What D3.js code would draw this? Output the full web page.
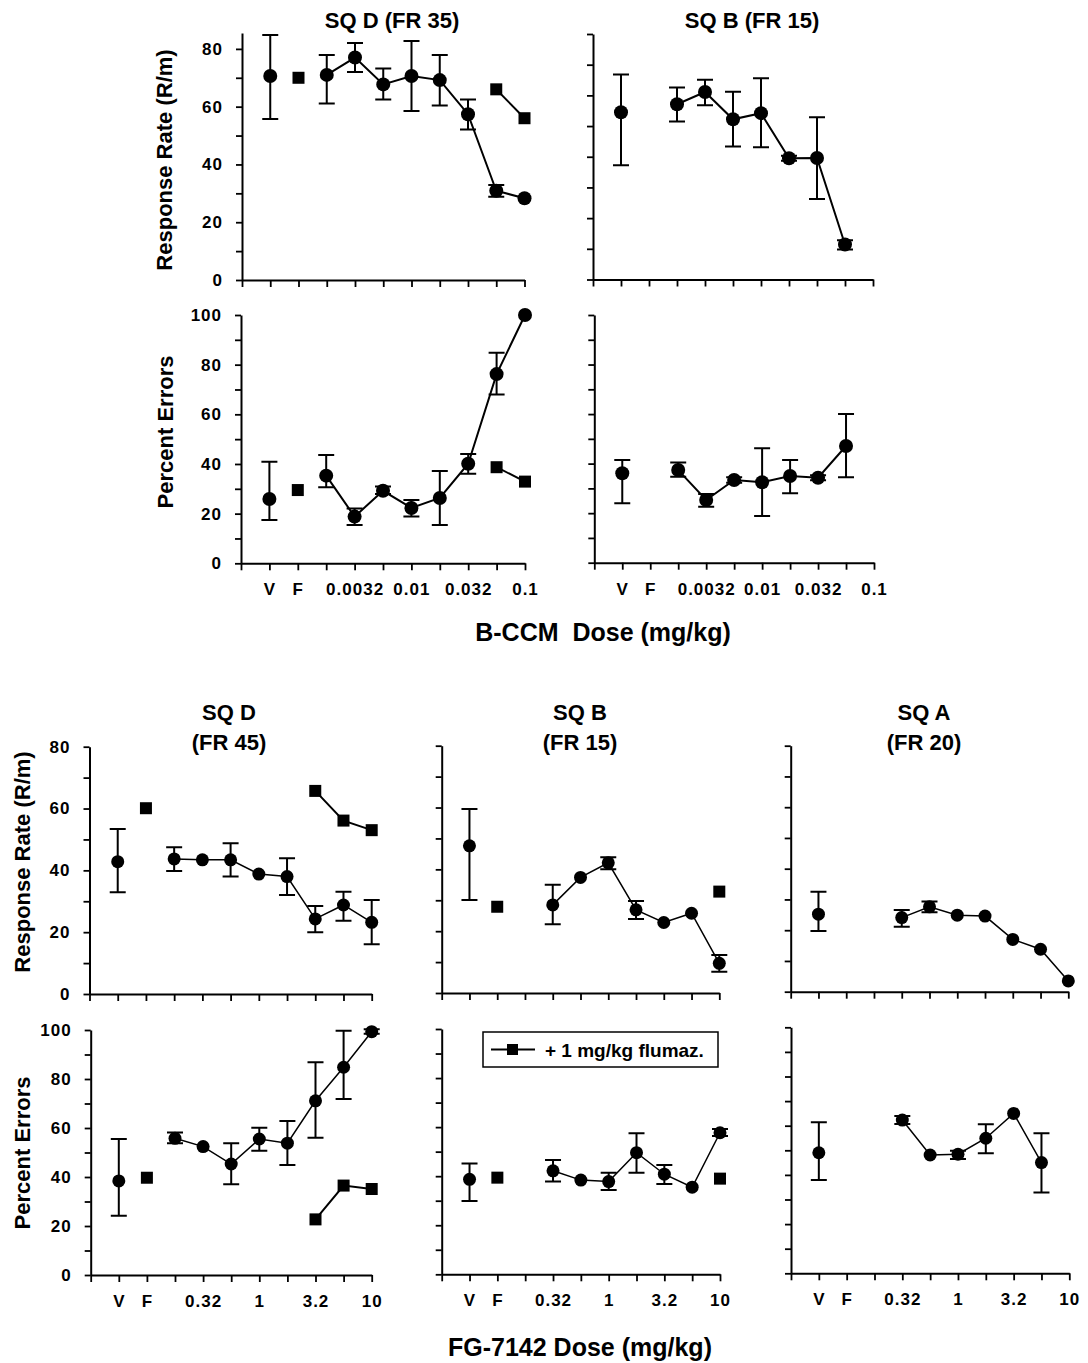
<!DOCTYPE html>
<html>
<head>
<meta charset="utf-8">
<script src="https://cdn.jsdelivr.net/npm/d3@7/dist/d3.min.js"></script>
<style>
  body { margin: 0; background: #fff; }
  text { font-family: "Liberation Sans", Arial, sans-serif; font-weight: bold; fill: #000; }
</style>
</head>
<body>
<div id="chart"></div>
<script>
// dose categories (x axis), V = vehicle, F = flumazenil alone
const bccmDoses = ["V", "F", "0.0018", "0.0032", "0.0056", "0.01", "0.018", "0.032", "0.056", "0.1"];
const bccmShown = ["V", "F", "0.0032", "0.01", "0.032", "0.1"];
const fgDoses = ["V", "F", "0.18", "0.32", "0.56", "1", "1.8", "3.2", "5.6", "10"];
const fgShown = ["V", "F", "0.32", "1", "3.2", "10"];

// B-CCM, SQ D (FR 35) response rate
const sqdRateB = [70.6, null, 71, 77, 67.7, 70.6, 69.2, 57.4, 30.9, 28.3];
const sqdRateBHi = [84.8, null, 77.9, 82, 73.2, 82.7, 77.9, 62.5, 32.9, null];
const sqdRateBLo = [55.7, null, 61.1, 72, 62.5, 58.5, 60.4, 52.1, 28.8, null];
const sqdRateBFlum = [null, 70, null, null, null, null, null, null, 66, 56];

// B-CCM, SQ B (FR 15) response rate
const sqbRateB = [54.5, null, 57.1, 61.1, 52.2, 54.2, 39.5, 39.6, 11.4, null];
const sqbRateBHi = [66.8, null, 62.6, 65.1, 61.2, 65.6, 40.3, 52.9, 12.8, null];
const sqbRateBLo = [37.2, null, 51.5, 56.8, 43.3, 43.1, 38.7, 26.2, 9.8, null];

// B-CCM, SQ D percent errors
const sqdErrB = [25.9, null, 35.3, 18.8, 29.2, 22.3, 26.3, 40.1, 76.2, 100];
const sqdErrBHi = [40.9, null, 43.6, 22.1, 30.9, 25.5, 37.2, 44, 84.8, null];
const sqdErrBLo = [17.4, null, 30.6, 15.4, 27.9, 18.8, 15.4, 36.1, 68, null];
const sqdErrBFlum = [null, 29.5, null, null, null, null, null, null, 38.7, 32.9];

// B-CCM, SQ B percent errors
const sqbErrB = [36.1, null, 37.4, 25.3, 33.4, 32.5, 35, 34.3, 47.1, null];
const sqbErrBHi = [41.5, null, 40.5, 27.7, 34.5, 46.2, 41.5, 35.3, 60, null];
const sqbErrBLo = [24, null, 34.7, 22.6, 32.3, 18.9, 28, 33.3, 34.5, null];

// FG-7142, SQ D (FR 45) response rate
const sqdRateFG = [42.8, null, 43.7, 43.4, 43.4, 38.8, 38, 24.3, 28.8, 23.2];
const sqdRateFGHi = [53.4, null, 47.5, null, 48.8, null, 43.9, 28.5, 33.1, 30.4];
const sqdRateFGLo = [32.9, null, 39.8, null, 38, null, 32, 20, 23.7, 16.1];
const sqdRateFGFlum = [null, 60.1, null, null, null, null, null, 65.7, 56.1, 53];

// FG-7142, SQ B (FR 15) response rate
const sqbRateFG = [47.6, null, null, 28.5, 37.4, 42.1, 26.9, 22.8, 25.8, 9.6];
const sqbRateFGHi = [59.5, null, null, 35, null, 43.9, 29.8, null, null, 12.3];
const sqbRateFGLo = [30.1, null, null, 22.2, null, 40, 23.9, null, null, 6.9];
const sqbRateFGFlum = [null, 27.9, null, null, null, null, null, null, null, 32.8];

// FG-7142, SQ A (FR 20) response rate
const sqaRateFG = [25.2, null, null, 24.1, 27.6, 24.9, 24.6, 17, 13.8, 3.5];
const sqaRateFGHi = [32.5, null, null, 26.6, 29.3, null, null, null, null, null];
const sqaRateFGLo = [19.7, null, null, 21.1, 25.8, null, null, null, null, null];

// FG-7142, SQ D percent errors
const sqdErrFG = [38.4, null, 55.8, 52.4, 45.3, 55.5, 53.8, 71.1, 84.8, 99.3];
const sqdErrFGHi = [55.5, null, 58.2, null, 53.8, 60.1, 62.9, 86.8, 99.7, 100.3];
const sqdErrFGLo = [24.2, null, 53.8, null, 37, 50.7, 44.9, 56, 71.8, 98.5];
const sqdErrFGFlum = [null, 39.7, null, null, null, null, null, 22.7, 36.5, 35.1];

// FG-7142, SQ B percent errors
const sqbErrFG = [38.7, null, null, 42.2, 38.4, 37.8, 49.6, 40.8, 35.5, 57.7];
const sqbErrFGHi = [45.2, null, null, 46.6, null, 41.4, 57.5, 44.6, null, 59.2];
const sqbErrFGLo = [29.9, null, null, 37.8, null, 34.4, 41.4, 36.8, null, 56.4];
const sqbErrFGFlum = [null, 39.4, null, null, null, null, null, null, null, 39];

// FG-7142, SQ A percent errors
const sqaErrFG = [49, null, null, 62.3, 48.1, 48.4, 54.9, 65, 45, null];
const sqaErrFGHi = [61.4, null, null, 63.9, null, 49.8, 60.6, null, 56.9, null];
const sqaErrFGLo = [37.9, null, null, 60.7, null, 46.5, 48.8, null, 32.8, null];

const W = 1088, H = 1363;

const svg = d3.select("#chart").append("svg")
    .attr("width", W)
    .attr("height", H);

// panel layout (axis corners in px)
const panels = [
    { doses: bccmDoses, shown: bccmShown, mean: sqdRateB, hi: sqdRateBHi, lo: sqdRateBLo, flum: sqdRateBFlum,
      yMax: 85.5, tickMax: 80, x0: 242, x1: 524.5, yBase: 280, yTop: 33, yLab: true, xLab: false, r: 7, lw: 2 },
    { doses: bccmDoses, shown: bccmShown, mean: sqbRateB, hi: sqbRateBHi, lo: sqbRateBLo, flum: null,
      yMax: 80, tickMax: 80, x0: 593, x1: 873, yBase: 279.5, yTop: 34, yLab: false, xLab: false, r: 7, lw: 2 },
    { doses: bccmDoses, shown: bccmShown, mean: sqdErrB, hi: sqdErrBHi, lo: sqdErrBLo, flum: sqdErrBFlum,
      yMax: 100, tickMax: 100, x0: 241, x1: 525, yBase: 563.3, yTop: 315, yLab: true, xLab: true, r: 7, lw: 2 },
    { doses: bccmDoses, shown: bccmShown, mean: sqbErrB, hi: sqbErrBHi, lo: sqbErrBLo, flum: null,
      yMax: 100, tickMax: 100, x0: 594.3, x1: 874, yBase: 562.7, yTop: 315, yLab: false, xLab: true, r: 7, lw: 2 },
    { doses: fgDoses, shown: fgShown, mean: sqdRateFG, hi: sqdRateFGHi, lo: sqdRateFGLo, flum: sqdRateFGFlum,
      yMax: 80, tickMax: 80, x0: 89.5, x1: 371.7, yBase: 994, yTop: 746.7, yLab: true, xLab: false, r: 6.5, lw: 1.5 },
    { doses: fgDoses, shown: fgShown, mean: sqbRateFG, hi: sqbRateFGHi, lo: sqbRateFGLo, flum: sqbRateFGFlum,
      yMax: 80, tickMax: 80, x0: 441.7, x1: 719.3, yBase: 993, yTop: 745.7, yLab: false, xLab: false, r: 6.5, lw: 1.5 },
    { doses: fgDoses, shown: fgShown, mean: sqaRateFG, hi: sqaRateFGHi, lo: sqaRateFGLo, flum: null,
      yMax: 80, tickMax: 80, x0: 790.7, x1: 1068.3, yBase: 991.7, yTop: 745.7, yLab: false, xLab: false, r: 6.5, lw: 1.5 },
    { doses: fgDoses, shown: fgShown, mean: sqdErrFG, hi: sqdErrFGHi, lo: sqdErrFGLo, flum: sqdErrFGFlum,
      yMax: 100, tickMax: 100, x0: 90.7, x1: 371.7, yBase: 1275, yTop: 1030, yLab: true, xLab: true, r: 6.5, lw: 1.5 },
    { doses: fgDoses, shown: fgShown, mean: sqbErrFG, hi: sqbErrFGHi, lo: sqbErrFGLo, flum: sqbErrFGFlum,
      yMax: 100, tickMax: 100, x0: 441.7, x1: 720, yBase: 1274.3, yTop: 1029, yLab: false, xLab: true, r: 6.5, lw: 1.5 },
    { doses: fgDoses, shown: fgShown, mean: sqaErrFG, hi: sqaErrFGHi, lo: sqaErrFGLo, flum: null,
      yMax: 100, tickMax: 100, x0: 791, x1: 1069.3, yBase: 1273.3, yTop: 1027.3, yLab: false, xLab: true, r: 6.5, lw: 1.5 }
];

panels.forEach(p => {
    const g = svg.append("g");

    const x = d3.scalePoint()
        .domain(["0"].concat(p.doses))
        .range([p.x0, p.x1]);

    const y = d3.scaleLinear()
        .domain([0, p.yMax])
        .range([p.yBase, p.yTop]);

    const xAxis = g.append("g")
        .attr("transform", `translate(0,${p.yBase})`)
        .call(d3.axisBottom(x)
            .tickSize(7)
            .tickSizeOuter(0)
            .tickPadding(13)
            .tickFormat(d => p.xLab && p.shown.includes(d) ? d : ""));

    const yAxis = g.append("g")
        .attr("transform", `translate(${p.x0},0)`)
        .call(d3.axisLeft(y)
            .tickValues(d3.range(0, p.tickMax + 1, 10))
            .tickSize(6)
            .tickSizeOuter(0)
            .tickPadding(13)
            .tickFormat(d => p.yLab && d % 20 === 0 ? d : ""));

    [xAxis, yAxis].forEach(a => {
        a.select(".domain").attr("stroke-width", 2);
        a.selectAll(".tick line").attr("stroke-width", 1.8);
        a.selectAll("text").style("font-size", "17px").style("letter-spacing", "1px");
    });

    const pts = p.doses.map((d, i) => ({ dose: d, i: i, v: p.mean[i], hi: p.hi[i], lo: p.lo[i] }));

    // connecting line (vehicle point is not joined)
    const line = d3.line()
        .defined(d => d.v != null && d.i >= 2)
        .x(d => x(d.dose))
        .y(d => y(d.v));

    g.append("path")
        .datum(pts)
        .attr("d", line)
        .attr("fill", "none")
        .attr("stroke", "#000")
        .attr("stroke-width", p.lw);

    // error bars
    const eb = pts.filter(d => d.v != null && d.hi != null);
    g.selectAll(".eb")
        .data(eb)
        .enter().append("path")
        .attr("class", "eb")
        .attr("d", d => {
            const cx = x(d.dose);
            return `M${cx},${y(d.hi)}V${y(d.lo)}M${cx - 8},${y(d.hi)}H${cx + 8}M${cx - 8},${y(d.lo)}H${cx + 8}`;
        })
        .attr("fill", "none")
        .attr("stroke", "#000")
        .attr("stroke-width", 2);

    g.selectAll(".dot")
        .data(pts.filter(d => d.v != null))
        .enter().append("circle")
        .attr("class", "dot")
        .attr("cx", d => x(d.dose))
        .attr("cy", d => y(d.v))
        .attr("r", p.r)
        .attr("fill", "#000");

    if (p.flum) {
        const sq = p.doses.map((d, i) => ({ dose: d, i: i, v: p.flum[i] }));
        g.append("path")
            .datum(sq)
            .attr("d", d3.line()
                .defined(d => d.v != null && d.i >= 2)
                .x(d => x(d.dose))
                .y(d => y(d.v)))
            .attr("fill", "none")
            .attr("stroke", "#000")
            .attr("stroke-width", 2);

        g.selectAll(".sq")
            .data(sq.filter(d => d.v != null))
            .enter().append("rect")
            .attr("class", "sq")
            .attr("x", d => x(d.dose) - 6)
            .attr("y", d => y(d.v) - 6)
            .attr("width", 12)
            .attr("height", 12)
            .attr("fill", "#000");
    }
});

// titles
const titles = [
    { lines: ["SQ D (FR 35)"], x: 392, y: 28 },
    { lines: ["SQ B (FR 15)"], x: 752, y: 28 },
    { lines: ["SQ D", "(FR 45)"], x: 229, y: 720 },
    { lines: ["SQ B", "(FR 15)"], x: 580, y: 720 },
    { lines: ["SQ A", "(FR 20)"], x: 924, y: 720 }
];
titles.forEach(t => {
    const txt = svg.append("text")
        .attr("text-anchor", "middle")
        .style("font-size", "22px");
    t.lines.forEach((l, k) => {
        txt.append("tspan")
            .attr("x", t.x)
            .attr("y", t.y + k * 30)
            .text(l);
    });
});

// y axis titles
const yTitles = [
    { text: "Response Rate (R/m)", x: 172, y: 160 },
    { text: "Percent Errors", x: 173, y: 432 },
    { text: "Response Rate (R/m)", x: 30, y: 862 },
    { text: "Percent Errors", x: 30, y: 1153 }
];
yTitles.forEach(t => {
    svg.append("text")
        .attr("transform", `translate(${t.x},${t.y}) rotate(-90)`)
        .attr("text-anchor", "middle")
        .style("font-size", "22px")
        .text(t.text);
});

// x axis titles
svg.append("text")
    .attr("x", 603)
    .attr("y", 641)
    .attr("text-anchor", "middle")
    .style("font-size", "25px")
    .style("white-space", "pre")
    .text("B-CCM  Dose (mg/kg)");

svg.append("text")
    .attr("x", 580)
    .attr("y", 1356)
    .attr("text-anchor", "middle")
    .style("font-size", "25px")
    .text("FG-7142 Dose (mg/kg)");

// legend
const legend = svg.append("g").attr("transform", "translate(483,1032)");
legend.append("rect")
    .attr("width", 235)
    .attr("height", 35)
    .attr("fill", "#fff")
    .attr("stroke", "#000")
    .attr("stroke-width", 1.5);
legend.append("line")
    .attr("x1", 8).attr("x2", 52)
    .attr("y1", 17.5).attr("y2", 17.5)
    .attr("stroke", "#000")
    .attr("stroke-width", 2);
legend.append("rect")
    .attr("x", 24).attr("y", 12)
    .attr("width", 11).attr("height", 11)
    .attr("fill", "#000");
legend.append("text")
    .attr("x", 62)
    .attr("y", 25)
    .style("font-size", "19px")
    .text("+ 1 mg/kg flumaz.");
</script>
</body>
</html>
